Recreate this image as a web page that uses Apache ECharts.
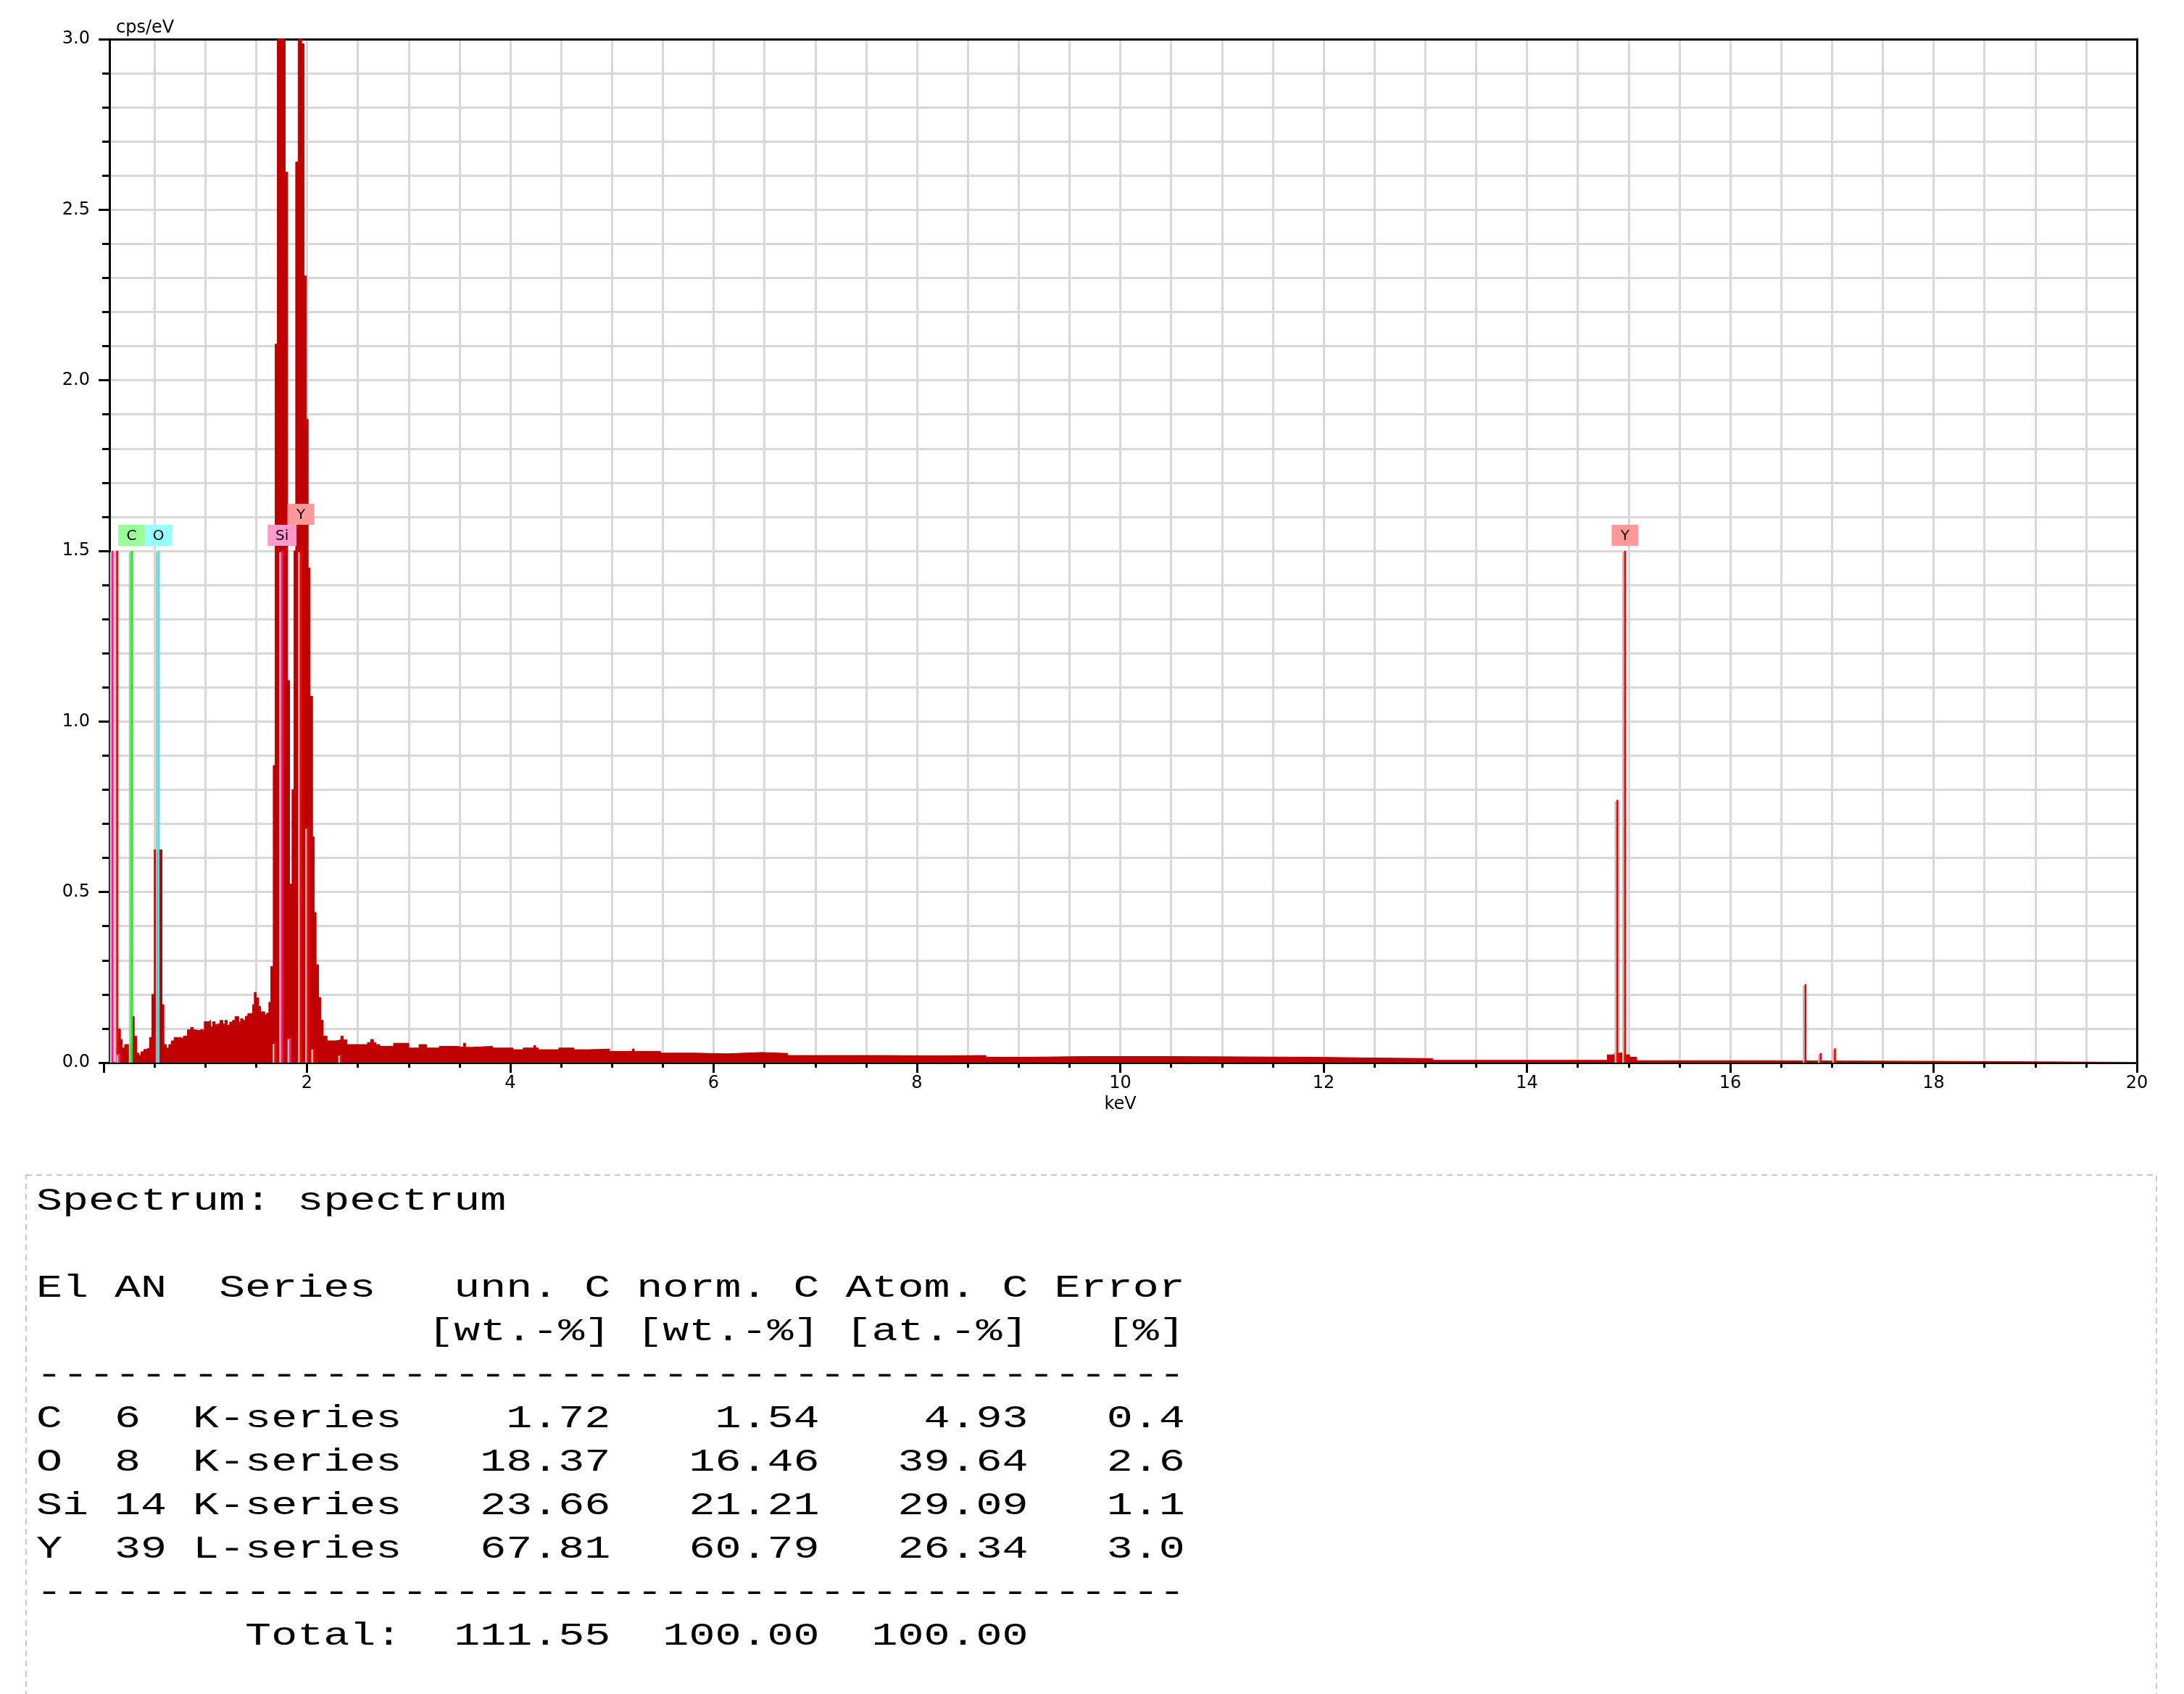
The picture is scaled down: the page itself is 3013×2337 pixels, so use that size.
<!DOCTYPE html>
<html><head><meta charset="utf-8">
<script src="https://cdn.jsdelivr.net/npm/echarts@6/dist/echarts.min.js"></script>
<style>html,body{margin:0;padding:0;background:#fff;}#c{width:3013px;height:2337px;}</style>
</head><body><div id="c"></div>
<script>
// ---------------- data ----------------
// spectrum: left edge of each step (keV) and its intensity (cps/eV)
const specKeV = [0.130,0.165,0.182,0.206,0.284,0.301,0.325,0.348,0.367,0.396,0.415,0.451,0.474,0.498,0.574,0.593,0.617,0.641,0.665,0.693,0.764,0.784,0.824,0.855,0.883,0.902,0.943,0.966,0.990,1.031,1.054,1.073,1.097,1.121,1.145,1.173,1.192,1.216,1.240,1.268,1.292,1.330,1.347,1.371,1.394,1.418,1.449,1.466,1.482,1.501,1.525,1.544,1.585,1.603,1.625,1.644,1.668,1.687,1.708,1.734,1.760,1.786,1.810,1.829,1.853,1.872,1.889,1.913,1.932,1.948,1.972,1.993,2.012,2.031,2.055,2.072,2.090,2.114,2.136,2.160,2.198,2.286,2.333,2.357,2.393,2.595,2.626,2.654,2.678,2.717,2.852,3.002,3.102,3.177,3.302,3.477,3.540,3.560,3.627,3.827,4.027,4.127,4.230,4.250,4.277,4.477,4.627,4.777,4.977,5.200,5.220,5.478,5.828,6.128,6.478,6.728,7.129,7.679,8.179,8.679,9.080,9.699,10.432,11.899,12.413,13.073,14.700,14.790,14.860,14.940,15.010,15.080,16.374,17.034,18.061,20.000];
const specCps = [0.099,0.068,0.043,0.053,0.135,0.078,0.028,0.021,0.032,0.039,0.043,0.074,0.200,0.624,0.170,0.053,0.043,0.053,0.064,0.074,0.070,0.078,0.096,0.103,0.096,0.094,0.098,0.094,0.120,0.124,0.105,0.120,0.112,0.116,0.124,0.113,0.124,0.110,0.119,0.124,0.135,0.119,0.129,0.124,0.136,0.144,0.145,0.170,0.206,0.190,0.165,0.149,0.140,0.145,0.177,0.282,0.871,2.106,3.450,3.900,3.600,2.610,1.120,0.523,0.800,1.500,2.640,3.550,3.300,2.986,2.306,1.886,1.450,1.074,0.662,0.440,0.287,0.191,0.124,0.078,0.064,0.067,0.078,0.067,0.053,0.059,0.068,0.059,0.053,0.048,0.057,0.043,0.053,0.043,0.048,0.045,0.057,0.045,0.048,0.043,0.038,0.043,0.050,0.043,0.038,0.043,0.038,0.040,0.033,0.040,0.033,0.028,0.026,0.030,0.027,0.021,0.021,0.020,0.021,0.016,0.018,0.018,0.016,0.014,0.012,0.007,0.007,0.023,0.028,0.023,0.016,0.006,0.005,0.004,0.001,0.001];

// element line markers
const markerKeV     = [0.088, 0.133, 0.155, 0.275, 0.540, 1.690, 1.755, 1.836, 1.940, 2.010, 2.070, 2.335, 14.890, 14.965, 16.740, 16.890, 17.030];
const markerHeight  = [1.5,   1.5,   0.027, 1.5,   1.5,   0.059, 1.5,   0.073, 1.5,   0.69,  0.043, 0.025, 0.77,   1.5,    0.23,   0.028,  0.042];
const markerElement = ['Si',  'Y',   'Si',  'C',   'O',   'Y',   'Si',  'Si',  'Y',   'Y',   'Y',   'Y',   'Y',    'Y',    'Y',    'Y',    'Y'];
const markerLabeled = [false, false, false, true,  true,  false, true,  false, true,  false, false, false, false,  true,   false,  false,  false];

// quantification table
const tableTitle   = 'Spectrum: spectrum';
const tableEl      = ['C', 'O', 'Si', 'Y'];
const tableAN      = [6, 8, 14, 39];
const tableSeries  = ['K-series', 'K-series', 'K-series', 'L-series'];
const tableUnnC    = [1.72, 18.37, 23.66, 67.81];
const tableNormC   = [1.54, 16.46, 21.21, 60.79];
const tableAtomC   = [4.93, 39.64, 29.09, 26.34];
const tableError   = [0.4, 2.6, 1.1, 3.0];
const tableTotals  = [111.55, 100.00, 100.00];

// ---------------- styles ----------------
const LINE_COLOR = {C:'#00ff00', O:'#00ffff', Si:'#ff1493', Y:'#ff0000'};
const BOX_COLOR  = {C:'#99ff99', O:'#99ffff', Si:'#ff99cc', Y:'#ff9999'};
const AX_FONT = 'DejaVu Sans';
const GRID_COL = '#d8d8d8';

const chart = echarts.init(document.getElementById('c'), null, {renderer:'canvas', width:3013, height:2337});

function labelLevels(api){
  const idx = markerKeV.map((k,i)=>i).filter(i=>markerLabeled[i]).sort((a,b)=>markerKeV[a]-markerKeV[b]);
  const levels = {};
  let prevRight = -1e9, prevLevel = 1;
  idx.forEach(i=>{
    const px = api.coord([markerKeV[i],0])[0];
    const w = markerElement[i].length>1 ? 40 : 37;
    const left = px - w/2;
    let lv = 0;
    if (left < prevRight - 4 && prevLevel === 0) lv = 1;
    levels[i] = lv; prevRight = px + w/2; prevLevel = lv;
  });
  return levels;
}

function renderMarker(params, api){
  const i = api.value(2);
  const base = api.coord([api.value(0), 0]);
  const top = api.coord([api.value(0), api.value(1)]);
  const el = markerElement[i];
  const children = [
    {type:'rect', shape:{x:base[0]-3.85, y:top[1]+2, width:2.5, height:base[1]-top[1]-2}, style:{fill:'#c0c0c0'}},
    {type:'rect', shape:{x:base[0]-1.35, y:top[1], width:2.7, height:base[1]-top[1]}, style:{fill:LINE_COLOR[el]}}
  ];
  if (markerLabeled[i]) {
    const lv = labelLevels(api)[i];
    const w = el.length>1 ? 40 : 37, h = 29;
    const by = top[1] - 7 - h - lv*h;
    children.push({type:'rect', shape:{x:base[0]-w/2, y:by, width:w, height:h}, style:{fill:BOX_COLOR[el]}});
    children.push({type:'text', x:base[0], y:by+h/2+1, style:{text:el, fill:'#000', font:'20px "DejaVu Sans"', align:'center', verticalAlign:'middle'}});
  }
  return {type:'group', children};
}

// table text lines
const pad = (s,n)=>String(s).padStart(n);
const tableLines = [
  tableTitle,
  '',
  'El AN  Series   unn. C norm. C Atom. C Error',
  ' '.repeat(15) + '[wt.-%] [wt.-%] [at.-%]   [%]',
  '-'.repeat(44)
];
tableEl.forEach((e,i)=>{
  tableLines.push(e.padEnd(3) + String(tableAN[i]).padEnd(3) + tableSeries[i] +
    pad(tableUnnC[i].toFixed(2),8) + pad(tableNormC[i].toFixed(2),8) + pad(tableAtomC[i].toFixed(2),8) + pad(tableError[i].toFixed(1),6));
});
tableLines.push('-'.repeat(44));
tableLines.push(' '.repeat(8) + 'Total:' + pad(tableTotals[0].toFixed(2),8) + pad(tableTotals[1].toFixed(2),8) + pad(tableTotals[2].toFixed(2),8));

const graphics = [
  {type:'rect', z:0, shape:{x:36, y:1621, width:2939, height:900}, style:{fill:'none', stroke:'#c8c8c8', lineWidth:2, lineDash:[8,6]}}
];
tableLines.forEach((t,n)=>{
  if (!t) return;
  graphics.push({type:'text', x:50, y:1670 + 60*n - 13, scaleX:1.364, scaleY:1,
    style:{text:t, fill:'#000', font:'44px "Liberation Mono"', align:'left', verticalAlign:'middle'}});
});

const tickStyle = {color:'#000', width:3};
const option = {
  animation:false,
  backgroundColor:'#ffffff',
  grid:{left:143, right:65, top:54, bottom:871, containLabel:false},
  xAxis:[{
    type:'value', min:0, max:20, interval:2, position:'bottom',
    name:'keV', nameLocation:'middle', nameGap:46,
    nameTextStyle:{fontFamily:AX_FONT, fontSize:24, color:'#000'},
    axisLine:{show:true, onZero:false, lineStyle:{color:'#000', width:3}},
    axisTick:{show:true, length:14, lineStyle:tickStyle},
    minorTick:{show:true, splitNumber:4, length:7, lineStyle:tickStyle},
    axisLabel:{showMinLabel:false, margin:17, fontFamily:AX_FONT, fontSize:24, color:'#000'},
    splitLine:{show:true, showMinLine:false, showMaxLine:false, lineStyle:{color:GRID_COL, width:3}},
    minorSplitLine:{show:true, lineStyle:{color:GRID_COL, width:3}}
  },{
    type:'value', min:0, max:20, position:'top',
    axisLine:{show:true, onZero:false, lineStyle:{color:'#000', width:3}},
    axisTick:{show:false}, axisLabel:{show:false}, splitLine:{show:false}
  }],
  yAxis:[{
    type:'value', min:0, max:3, interval:0.5, offset:-8,
    name:'cps/eV', nameLocation:'end', nameGap:3,
    nameTextStyle:{fontFamily:AX_FONT, fontSize:24, color:'#000', align:'left', verticalAlign:'bottom', padding:[0,0,0,9]},
    axisLine:{show:true, onZero:false, lineStyle:{color:'#000', width:3}},
    axisTick:{show:true, length:15, lineStyle:tickStyle},
    minorTick:{show:true, splitNumber:5, length:10, lineStyle:tickStyle},
    axisLabel:{margin:27, fontFamily:AX_FONT, fontSize:24, color:'#000', formatter:v=>v.toFixed(1)},
    splitLine:{show:true, showMinLine:false, showMaxLine:false, lineStyle:{color:GRID_COL, width:3}},
    minorSplitLine:{show:true, lineStyle:{color:GRID_COL, width:3}}
  },{
    type:'value', min:0, max:3, position:'right',
    axisLine:{show:true, onZero:false, lineStyle:{color:'#000', width:3}},
    axisTick:{show:false}, axisLabel:{show:false}, splitLine:{show:false}
  }],
  series:[{
    type:'line', name:'spectrum', step:'end', symbol:'none', silent:true,
    data: specKeV.map((k,i)=>[k, specCps[i]]),
    lineStyle:{width:1, color:'#c00000'}, itemStyle:{color:'#c00000'},
    areaStyle:{color:'#c00000', opacity:1}, z:2
  },{
    type:'custom', name:'lines', silent:true, clip:false, z:3,
    data: markerKeV.map((k,i)=>[k, markerHeight[i], i]),
    renderItem: renderMarker
  }],
  graphic: graphics
};
chart.setOption(option);
</script>
</body></html>
